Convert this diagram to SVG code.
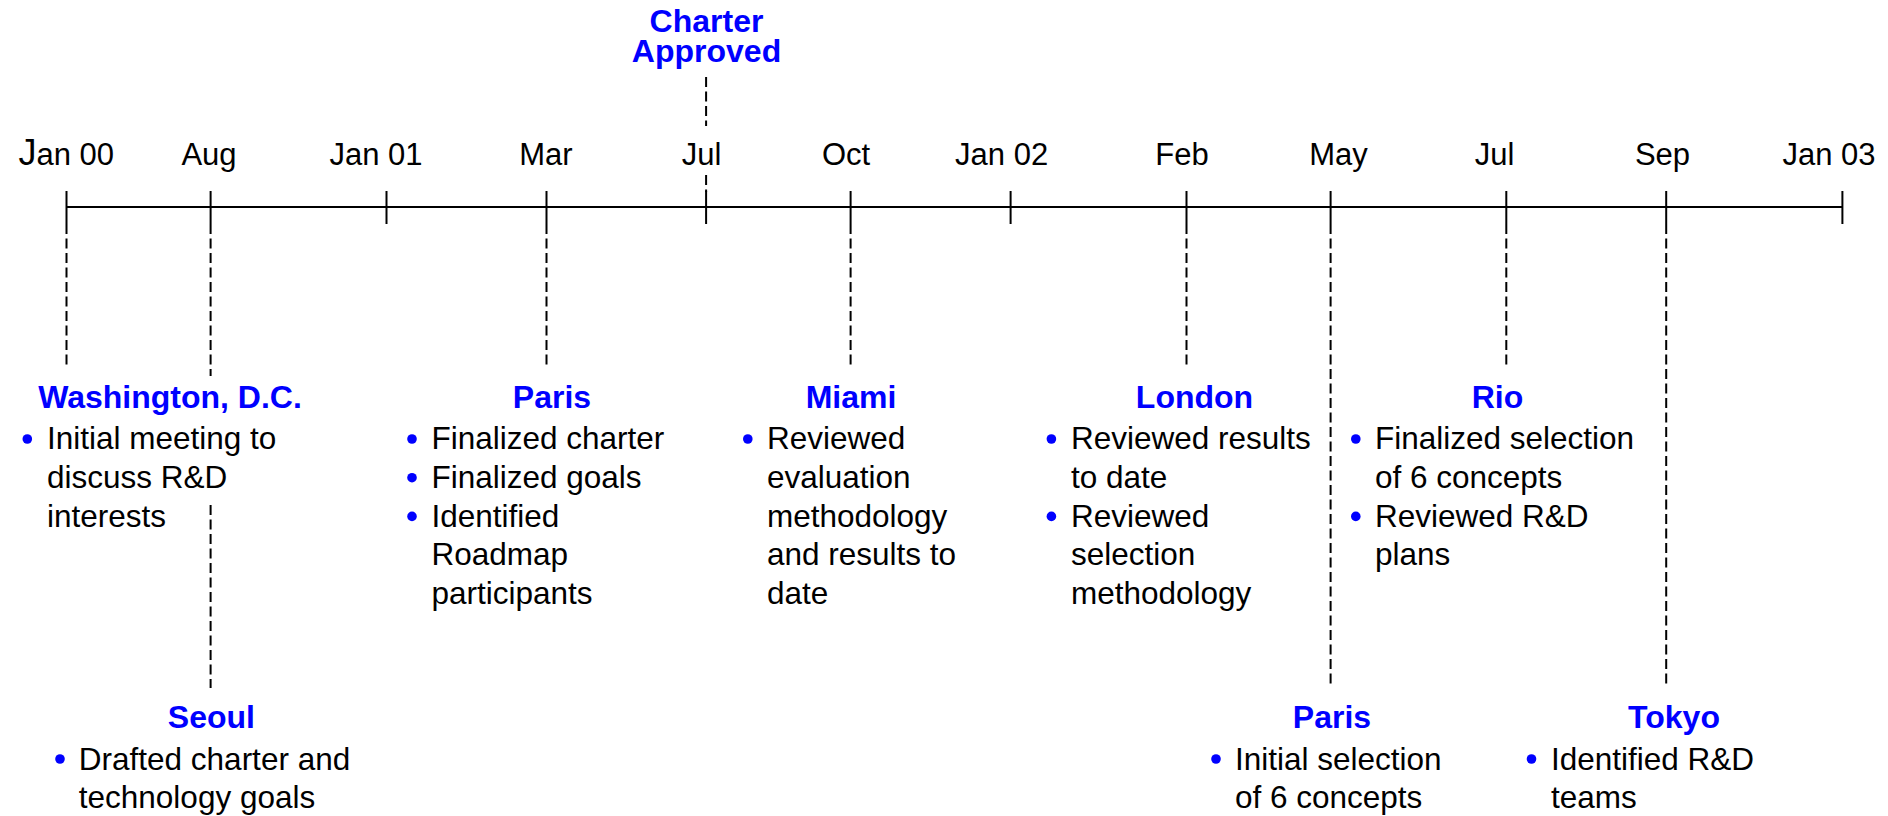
<svg xmlns="http://www.w3.org/2000/svg" width="1888" height="816" viewBox="0 0 1888 816">
<style>
text{font-family:"Liberation Sans",Arial,sans-serif;}
.t{font-size:31px;fill:#000;}
.tick{font-size:31px;fill:#000;text-anchor:middle;}
.h{font-size:32px;font-weight:bold;fill:#0000FF;text-anchor:middle;}
.b{font-size:31.5px;fill:#000;}
.axis{stroke:#000;stroke-width:2;fill:none;}
.dash{stroke:#000;stroke-width:2;stroke-dasharray:10 4.5;fill:none;}
.bul{fill:#0000FF;}
</style>
<rect width="1888" height="816" fill="#fff"/>
<g id="axis">
<line class="axis" x1="66.5" y1="207" x2="1842.4" y2="207"/>
<line class="axis" x1="66.5" y1="191" x2="66.5" y2="224"/>
<line class="axis" x1="210.6" y1="191" x2="210.6" y2="224"/>
<line class="axis" x1="386.5" y1="191" x2="386.5" y2="224"/>
<line class="axis" x1="546.5" y1="191" x2="546.5" y2="224"/>
<line class="axis" x1="706.1" y1="191" x2="706.1" y2="224"/>
<line class="axis" x1="850.6" y1="191" x2="850.6" y2="224"/>
<line class="axis" x1="1010.6" y1="191" x2="1010.6" y2="224"/>
<line class="axis" x1="1186.5" y1="191" x2="1186.5" y2="224"/>
<line class="axis" x1="1330.6" y1="191" x2="1330.6" y2="224"/>
<line class="axis" x1="1506.3" y1="191" x2="1506.3" y2="224"/>
<line class="axis" x1="1666.2" y1="191" x2="1666.2" y2="224"/>
<line class="axis" x1="1842.4" y1="191" x2="1842.4" y2="224"/>
</g>
<g id="tick-labels">
<text class="t" x="18.4" y="165"><tspan font-size="36">J</tspan>an 00</text>
<text class="tick" x="209" y="165">Aug</text>
<text class="tick" x="376" y="165">Jan 01</text>
<text class="tick" x="546" y="165">Mar</text>
<text class="tick" x="701.6" y="165">Jul</text>
<text class="tick" x="846" y="165">Oct</text>
<text class="tick" x="1001.6" y="165">Jan 02</text>
<text class="tick" x="1182" y="165">Feb</text>
<text class="tick" x="1338.5" y="165">May</text>
<text class="tick" x="1494.5" y="165">Jul</text>
<text class="tick" x="1662.5" y="165">Sep</text>
<text class="tick" x="1829" y="165">Jan 03</text>
</g>
<g id="connectors">
<line class="dash" x1="706.1" y1="77" x2="706.1" y2="126"/>
<line class="dash" x1="706.1" y1="175" x2="706.1" y2="192"/>
<line class="dash" x1="66.5" y1="224" x2="66.5" y2="367"/>
<line class="dash" x1="210.6" y1="224" x2="210.6" y2="376"/>
<line class="dash" x1="210.6" y1="505" x2="210.6" y2="688"/>
<line class="dash" x1="546.5" y1="224" x2="546.5" y2="367"/>
<line class="dash" x1="850.6" y1="224" x2="850.6" y2="367"/>
<line class="dash" x1="1186.5" y1="224" x2="1186.5" y2="367"/>
<line class="dash" x1="1330.6" y1="224" x2="1330.6" y2="688"/>
<line class="dash" x1="1506.3" y1="224" x2="1506.3" y2="367"/>
<line class="dash" x1="1666.2" y1="224" x2="1666.2" y2="688"/>
</g>
<g id="charter">
<text class="h" x="706.5" y="32">Charter</text>
<text class="h" x="706.5" y="61.5">Approved</text>
</g>
<g id="washington">
<text class="h" x="170" y="408">Washington, D.C.</text>
<circle class="bul" cx="27.3" cy="439" r="4.8"/>
<text class="b" x="47" y="449.3">Initial meeting to</text>
<text class="b" x="47" y="488">discuss R&amp;D</text>
<text class="b" x="47" y="526.7">interests</text>
</g>
<g id="seoul">
<text class="h" x="211.4" y="728">Seoul</text>
<circle class="bul" cx="60" cy="759" r="4.8"/>
<text class="b" x="78.8" y="769.5">Drafted charter and</text>
<text class="b" x="78.8" y="808">technology goals</text>
</g>
<g id="paris1">
<text class="h" x="552" y="408">Paris</text>
<circle class="bul" cx="412" cy="439" r="4.8"/>
<text class="b" x="431.4" y="449.3">Finalized charter</text>
<circle class="bul" cx="412" cy="477.7" r="4.8"/>
<text class="b" x="431.4" y="488">Finalized goals</text>
<circle class="bul" cx="412" cy="516.4" r="4.8"/>
<text class="b" x="431.4" y="526.7">Identified</text>
<text class="b" x="431.4" y="565.4">Roadmap</text>
<text class="b" x="431.4" y="604.1">participants</text>
</g>
<g id="miami">
<text class="h" x="851" y="408">Miami</text>
<circle class="bul" cx="747.8" cy="439" r="4.8"/>
<text class="b" x="767" y="449.3">Reviewed</text>
<text class="b" x="767" y="488">evaluation</text>
<text class="b" x="767" y="526.7">methodology</text>
<text class="b" x="767" y="565.4">and results to</text>
<text class="b" x="767" y="604.1">date</text>
</g>
<g id="london">
<text class="h" x="1194.5" y="408">London</text>
<circle class="bul" cx="1051.4" cy="439" r="4.8"/>
<text class="b" x="1071" y="449.3">Reviewed results</text>
<text class="b" x="1071" y="488">to date</text>
<circle class="bul" cx="1051.4" cy="516.4" r="4.8"/>
<text class="b" x="1071" y="526.7">Reviewed</text>
<text class="b" x="1071" y="565.4">selection</text>
<text class="b" x="1071" y="604.1">methodology</text>
</g>
<g id="paris2">
<text class="h" x="1332" y="728">Paris</text>
<circle class="bul" cx="1216" cy="759" r="4.8"/>
<text class="b" x="1235" y="769.5">Initial selection</text>
<text class="b" x="1235" y="808">of 6 concepts</text>
</g>
<g id="rio">
<text class="h" x="1497.4" y="408">Rio</text>
<circle class="bul" cx="1355.8" cy="439" r="4.8"/>
<text class="b" x="1374.9" y="449.3">Finalized selection</text>
<text class="b" x="1374.9" y="488">of 6 concepts</text>
<circle class="bul" cx="1355.8" cy="516.4" r="4.8"/>
<text class="b" x="1374.9" y="526.7">Reviewed R&amp;D</text>
<text class="b" x="1374.9" y="565.4">plans</text>
</g>
<g id="tokyo">
<text class="h" x="1674" y="728">Tokyo</text>
<circle class="bul" cx="1531.5" cy="759" r="4.8"/>
<text class="b" x="1551" y="769.5">Identified R&amp;D</text>
<text class="b" x="1551" y="808">teams</text>
</g>
</svg>
